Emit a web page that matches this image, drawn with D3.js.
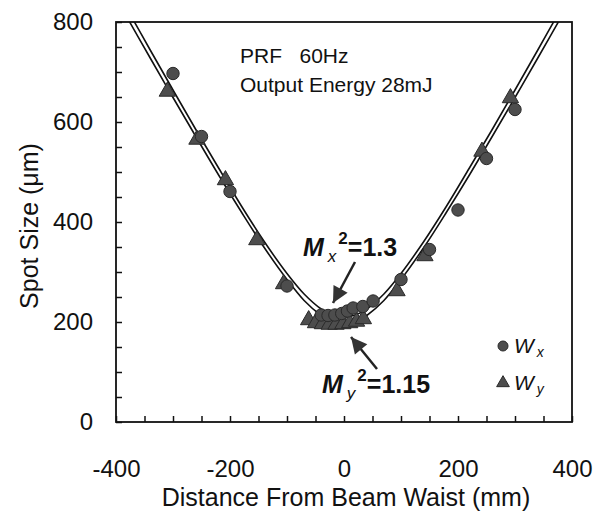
<!DOCTYPE html>
<html><head><meta charset="utf-8">
<script src="https://cdnjs.cloudflare.com/ajax/libs/d3/7.8.5/d3.min.js"></script>
<style>
body{margin:0;background:#fff;}
svg text{font-family:"Liberation Sans",Arial,sans-serif;fill:#111;}
</style></head>
<body><svg id="c" width="605" height="516"></svg>
<script>
// ---- data ----
const wxPoints = [
  [-300,697],[-250,571],[-200,461],[-100,272],
  [-40,214],[-28,213],[-16,214],[-4,217],[6,222],[16,228],[33,231],[51,242],
  [100,285],[150,345],[200,424],[250,527],[300,625]
];
const wyPoints = [
  [-310,661],[-258,565],[-208,484],[-153,364],[-106,276],
  [-62,204],[-50,198],[-38,196],[-26,195],[-14,195],[-2,196],[10,198],[22,201],[34,206],
  [93,262],[142,332],[242,541],[292,648]
];
// fitted curves
const fitX = [[-380,825],[-340,744],[-300,664],[-260,585],[-220,508],[-180,432],[-140,361],[-100,297],[-70,256],[-40,226],[-20,214],[0,210],[20,214],[40,226],[70,256],[100,297],[140,361],[180,432],[220,508],[260,585],[300,664],[340,744],[380,825]];
const fitY = [[-390,828],[-340,728],[-300,649],[-260,571],[-220,494],[-180,420],[-140,349],[-100,285],[-70,243],[-40,213],[-20,200],[0,196],[20,200],[40,213],[70,243],[100,285],[140,349],[180,420],[220,494],[260,571],[300,649],[340,728],[390,828]];
const xTicks = [-400,-350,-300,-250,-200,-150,-100,-50,0,50,100,150,200,250,300,350,400];
const xLabels = [-400,-200,0,200,400];
const yTicks = [0,50,100,150,200,250,300,350,400,450,500,550,600,650,700,750,800];
const yLabels = [0,200,400,600,800];
const xTitle = "Distance From Beam Waist (mm)";
const yTitle = "Spot Size (\u03bcm)";
const noteLines = ["PRF\u00a0\u00a0 60Hz","Output Energy 28mJ"];

const svg = d3.select("#c");
const x = d3.scaleLinear().domain([-400,400]).range([116,572]);
const y = d3.scaleLinear().domain([0,800]).range([422,22]);

svg.append("clipPath").attr("id","clip").append("rect")
  .attr("x",116).attr("y",22).attr("width",456).attr("height",400);

// axes (ticks inward)
const xa = svg.append("g").attr("transform","translate(0,422)")
  .call(d3.axisBottom(x).tickValues(xTicks).tickSizeInner(-6).tickSizeOuter(0).tickPadding(38)
    .tickFormat(d => xLabels.includes(d) ? d : ""));
xa.select(".domain").remove();
xa.selectAll("line").attr("stroke","#111").attr("stroke-width",1.5);
xa.selectAll("text").attr("font-size",24).attr("font-family","Liberation Sans, Arial").attr("fill","#111");

const ya = svg.append("g").attr("transform","translate(116,0)")
  .call(d3.axisLeft(y).tickValues(yTicks).tickSizeInner(-6).tickSizeOuter(0).tickPadding(23)
    .tickFormat(d => yLabels.includes(d) ? d : ""));
ya.select(".domain").remove();
ya.selectAll("line").attr("stroke","#111").attr("stroke-width",1.5);
ya.selectAll("text").attr("font-size",24).attr("font-family","Liberation Sans, Arial").attr("fill","#111");

// frame
svg.append("rect").attr("x",116).attr("y",22).attr("width",456).attr("height",400)
  .attr("fill","none").attr("stroke","#111").attr("stroke-width",1.8);

// titles
svg.append("text").attr("x",346).attr("y",506).attr("text-anchor","middle")
  .attr("font-size",25).text(xTitle);
svg.append("text").attr("transform","translate(38,226) rotate(-90)").attr("text-anchor","middle")
  .attr("font-size",25).text(yTitle);

// fit curves
const line = d3.line().x(d=>x(d[0])).y(d=>y(d[1])).curve(d3.curveCatmullRom);
const plot = svg.append("g").attr("clip-path","url(#clip)");
[fitX, fitY].forEach(c => plot.append("path").attr("d", line(c))
  .attr("fill","none").attr("stroke","#111").attr("stroke-width",1.6));

// markers
const tri = d3.symbol().type(d3.symbolTriangle).size(115);
plot.selectAll(".t").data(wyPoints).join("path")
  .attr("d",tri).attr("transform",d=>`translate(${x(d[0])},${y(d[1])})`)
  .attr("fill","#4d4d4d").attr("stroke","#2a2a2a").attr("stroke-width",1);
plot.selectAll(".c").data(wxPoints).join("circle")
  .attr("cx",d=>x(d[0])).attr("cy",d=>y(d[1])).attr("r",6.2)
  .attr("fill","#4d4d4d").attr("stroke","#2a2a2a").attr("stroke-width",1);

// notes
noteLines.forEach((t,i)=> svg.append("text").attr("x",240).attr("y",63+i*29)
  .attr("font-size",21).text(t));

// M^2 labels
function mLabel(px,py,sub,val){
  const t = svg.append("text").attr("x",px).attr("y",py).attr("font-size",25).attr("font-weight","bold");
  t.append("tspan").attr("font-style","italic").text("M");
  t.append("tspan").attr("font-style","italic").attr("font-weight","normal").attr("font-size",17).attr("dx",4).attr("dy",6).text(sub);
  t.append("tspan").attr("font-size",17).attr("dx",2).attr("dy",-18).text("2");
  t.append("tspan").attr("dy",12).text(val);
}
mLabel(303,256,"x","=1.3");
mLabel(322,393,"y","=1.15");

// arrows
function arrow(x1,y1,x2,y2){
  svg.append("line").attr("x1",x1).attr("y1",y1).attr("x2",x2).attr("y2",y2)
    .attr("stroke","#222").attr("stroke-width",2.5);
  const a = Math.atan2(y2-y1,x2-x1), L=16, W=8;
  const bx = x2 - L*Math.cos(a), by = y2 - L*Math.sin(a);
  const pts = [[x2,y2],[bx + W*Math.sin(a), by - W*Math.cos(a)],[bx - W*Math.sin(a), by + W*Math.cos(a)]];
  svg.append("path").attr("d","M"+pts.map(p=>p.join(",")).join("L")+"Z").attr("fill","#333");
}
arrow(355,262,333,303);
arrow(377,369,351,337);

// legend
const lg = svg.append("g");
lg.append("circle").attr("cx",503).attr("cy",346).attr("r",5).attr("fill","#4d4d4d").attr("stroke","#2a2a2a");
lg.append("path").attr("d",d3.symbol().type(d3.symbolTriangle).size(70)).attr("transform","translate(503,383)")
  .attr("fill","#4d4d4d").attr("stroke","#2a2a2a");
[["x",353],["y",390]].forEach(([s,yy])=>{
  const t = lg.append("text").attr("x",514).attr("y",yy).attr("font-size",21).attr("font-style","italic");
  t.append("tspan").text("W");
  t.append("tspan").attr("font-size",14).attr("dx",3).attr("dy",4).text(s);
});
</script></body></html>
